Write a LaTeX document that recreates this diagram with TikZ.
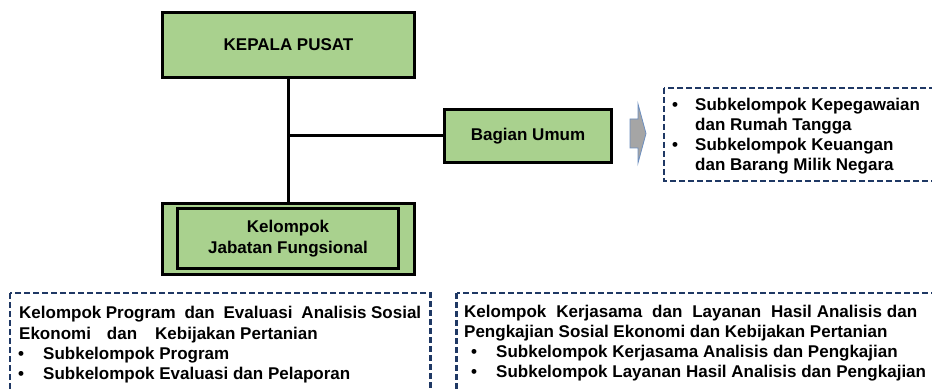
\documentclass[tikz,border=0pt]{standalone}
\usepackage{fontspec}
\setmainfont{Liberation Sans}
\newcommand\diagfs{\fontsize{17}{21}\selectfont}
\definecolor{boxgreen}{HTML}{A9D18E}
\definecolor{navyline}{HTML}{1F3864}
\definecolor{arrowgray}{HTML}{A5A5A5}
\definecolor{arrowblue}{HTML}{6C8EBF}
\begin{document}
\begin{tikzpicture}[x=1pt,y=-1pt,
  greenbox/.style={draw=black, line width=3.2pt, fill=boxgreen, inner sep=0pt,
    align=center, font=\diagfs\bfseries},
  innerbox/.style={draw=black, line width=3.2pt, inner sep=0pt, align=center,
    font=\diagfs\bfseries},
  dashbox/.style={draw=navyline, line width=2.8pt, dash pattern=on 6pt off 3pt},
  txt/.style={inner sep=0pt, anchor=base west, font=\diagfs\bfseries},
  conn/.style={draw=black, line width=3pt}]
\clip (0,0) rectangle (932,390);
\fill[white] (0,0) rectangle (932,390);

% boxes
\node[greenbox, minimum width=252pt, minimum height=65pt] (kp) at (288.5,45) {KEPALA PUSAT};
\node[greenbox, minimum width=167pt, minimum height=53pt] (bu) at (528,136) {Bagian Umum};
\node[greenbox, minimum width=252pt, minimum height=71pt] (kjf) at (288.5,239) {};
\node[innerbox, minimum width=221pt, minimum height=60pt] (kjfin) at (288,238.5)
  {Kelompok\\[0pt]Jabatan Fungsional};

% connectors
\coordinate (junc) at (kp.south |- bu.west);
\draw[conn] (kp.south) -- (kjf.north);
\draw[conn] (junc) -- (bu.west);

% block arrow
\draw[fill=arrowgray, draw=arrowblue, line width=0.8pt]
  (630,119) -- (638,119) -- (638,104) -- (646,133.5) -- (638,163) -- (638,148) -- (630,148) -- cycle;

% dashed boxes
\draw[dashbox] (664,88) rectangle (945,181);
\draw[dashbox] (10,293) rectangle (430.5,400);
\draw[dashbox] (456.5,293) rectangle (945,400);

% top right text
\node[txt] (b1) at (672,111) {•};
\node[txt] (t1) at (695,111) {Subkelompok Kepegawaian};
\node[txt] (t2) at (695,131) {dan Rumah Tangga};
\node[txt] (b2) at (672,151) {•};
\node[txt] (t3) at (695,151) {Subkelompok Keuangan};
\node[txt] (t4) at (695,171) {dan Barang Milik Negara};

% bottom left text
\node[txt] (l1) at (19,318) {\makebox[402pt][s]{Kelompok Program\ \ dan\ \ Evaluasi\ \ Analisis Sosial}};
\node[txt] (l2) at (19,339) {Ekonomi\hspace{16pt}dan\hspace{18pt}Kebijakan Pertanian};
\node[txt] (lb1) at (18,359) {•};
\node[txt] (l3) at (43,359) {Subkelompok Program};
\node[txt] (lb2) at (18,379) {•};
\node[txt] (l4) at (43,379) {Subkelompok Evaluasi dan Pelaporan};

% bottom right text
\node[txt] (r1) at (464,317) {\makebox[453pt][s]{Kelompok\ \ Kerjasama\ \ dan\ \ Layanan\ \ Hasil Analisis dan}};
\node[txt] (r2) at (464,337) {Pengkajian Sosial Ekonomi dan Kebijakan Pertanian};
\node[txt] (rb1) at (471,357) {•};
\node[txt] (r3) at (496,357) {Subkelompok Kerjasama Analisis dan Pengkajian};
\node[txt] (rb2) at (471,377) {•};
\node[txt] (r4) at (496,377) {Subkelompok Layanan Hasil Analisis dan Pengkajian};
\end{tikzpicture}
\end{document}
